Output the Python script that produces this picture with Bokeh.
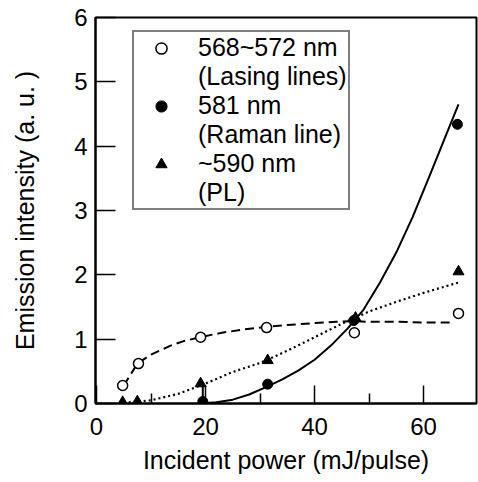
from bokeh.plotting import figure
from bokeh.models import FixedTicker, Legend, LegendItem, Range1d
from bokeh.embed import file_html
from bokeh.resources import INLINE

# ---- data ----
lasing_x = [4.8, 7.7, 19.1, 31.2, 47.3, 66.4]
lasing_y = [0.28, 0.62, 1.03, 1.18, 1.10, 1.40]

raman_x = [19.5, 31.4, 47.2, 66.2]
raman_y = [0.03, 0.30, 1.29, 4.34]

pl_x = [4.8, 7.5, 19.1, 31.4, 47.5, 66.4]
pl_y = [0.02, 0.03, 0.31, 0.67, 1.33, 2.05]

# fitted guide curves
lasing_fit_x = [5, 7.5, 10, 13.6, 16, 19.5, 23, 27, 31, 35, 40, 44, 47, 50, 55, 60, 65]
lasing_fit_y = [0.28, 0.62, 0.76, 0.90, 0.97, 1.04, 1.10, 1.15, 1.19, 1.22, 1.25, 1.27, 1.28, 1.27, 1.27, 1.26, 1.26]

raman_fit_x = [19, 22, 25, 28, 31, 34, 37, 40, 43, 46, 49, 52, 55, 58, 61, 64, 66.4]
raman_fit_y = [0.0, 0.02, 0.06, 0.14, 0.25, 0.37, 0.51, 0.68, 0.90, 1.16, 1.46, 1.88, 2.35, 2.90, 3.52, 4.15, 4.65]

pl_fit_x = [5, 7.5, 10, 15, 20, 25, 30, 35, 40, 45, 50, 55, 60, 66.4]
pl_fit_y = [0.01, 0.03, 0.05, 0.15, 0.31, 0.49, 0.63, 0.82, 1.03, 1.24, 1.43, 1.58, 1.72, 1.88]

# short vertical stroke seen at x~19.5
stroke_x = [19.5]
stroke_y0 = [0.03]
stroke_y1 = [0.30]

x_ticks = [0, 20, 40, 60]
x_minor = [10, 30, 50]
y_ticks = [0, 1, 2, 3, 4, 5, 6]

legend_labels = ["568~572 nm", "(Lasing lines)", "581 nm", "(Raman line)", "~590 nm", "(PL)"]

FONT = "Liberation Sans"

p = figure(width=478, height=482, output_backend="svg", toolbar_location=None,
           x_range=Range1d(-0.18, 69.7), y_range=Range1d(0, 6),
           min_border_left=95, min_border_right=2, min_border_top=17, min_border_bottom=79)

p.xgrid.visible = False
p.ygrid.visible = False
p.outline_line_color = "black"
p.outline_line_width = 2
p.background_fill_color = "white"
p.border_fill_color = "white"

# curves
p.line(lasing_fit_x, lasing_fit_y, line_color="black", line_width=2, line_dash="9 5")
p.line(pl_fit_x, pl_fit_y, line_color="black", line_width=2.2, line_dash="2 3")
p.line(raman_fit_x, raman_fit_y, line_color="black", line_width=2)
p.segment(x0=stroke_x, y0=stroke_y0, x1=stroke_x, y1=stroke_y1, line_color="black", line_width=2)

r_las = p.scatter(lasing_x, lasing_y, marker="circle", size=10, fill_color="white",
                  line_color="black", line_width=1.5)
r_ram = p.scatter(raman_x, raman_y, marker="circle", size=10, fill_color="black",
                  line_color="black")
r_pl = p.scatter(pl_x, pl_y, marker="triangle", size=11, fill_color="black",
                 line_color="black")
r_dummy = p.scatter([], [], marker="circle", size=1, fill_alpha=0, line_alpha=0)

items = [
    LegendItem(label=legend_labels[0], renderers=[r_las]),
    LegendItem(label=legend_labels[1], renderers=[r_dummy]),
    LegendItem(label=legend_labels[2], renderers=[r_ram]),
    LegendItem(label=legend_labels[3], renderers=[r_dummy]),
    LegendItem(label=legend_labels[4], renderers=[r_pl]),
    LegendItem(label=legend_labels[5], renderers=[r_dummy]),
]
legend = Legend(items=items, location=(37, 193), padding=1, spacing=0,
                glyph_width=52, glyph_height=28, label_height=28, label_standoff=11,
                label_text_font=FONT, label_text_font_size="25px", label_text_color="black",
                border_line_color="black", border_line_width=2,
                background_fill_color="white", background_fill_alpha=1.0, margin=0)
p.add_layout(legend, "center")

# axes
xa = p.xaxis[0]
xa.ticker = FixedTicker(ticks=x_ticks, minor_ticks=x_minor)
xa.major_tick_in = 18
xa.major_tick_out = 0
xa.minor_tick_in = 10
xa.minor_tick_out = 0
xa.major_tick_line_width = 1.5
xa.minor_tick_line_width = 1.5
xa.axis_line_width = 2
xa.major_label_standoff = 14
xa.major_label_text_font = FONT
xa.major_label_text_font_size = "24px"
xa.major_label_text_color = "black"
xa.axis_label = "Incident power (mJ/pulse)"
xa.axis_label_text_font = FONT
xa.axis_label_text_font_size = "25px"
xa.axis_label_text_font_style = "normal"
xa.axis_label_text_color = "black"
xa.axis_label_standoff = 8

ya = p.yaxis[0]
ya.ticker = FixedTicker(ticks=y_ticks)
ya.major_tick_in = 20
ya.major_tick_out = 0
ya.minor_tick_line_color = None
ya.major_tick_line_width = 1.5
ya.axis_line_width = 2
ya.major_label_standoff = 8
ya.major_label_text_font = FONT
ya.major_label_text_font_size = "24px"
ya.major_label_text_color = "black"
ya.axis_label = "Emission intensity (a. u. )"
ya.axis_label_text_font = FONT
ya.axis_label_text_font_size = "25px"
ya.axis_label_text_font_style = "normal"
ya.axis_label_text_color = "black"
ya.axis_label_standoff = 32

html = file_html(p, INLINE)
open("out.html", "w").write(html)
